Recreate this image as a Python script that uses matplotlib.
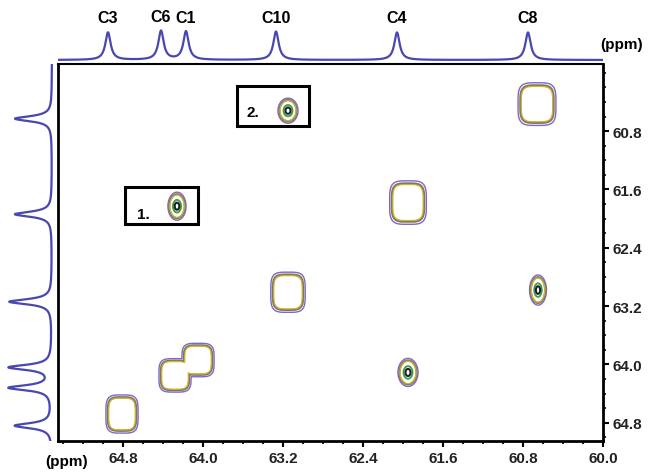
import numpy as np
import matplotlib
matplotlib.use('Agg')
import matplotlib.pyplot as plt
from matplotlib.patches import Rectangle
from matplotlib.ticker import MultipleLocator, FixedLocator

plt.rcParams['font.family'] = ['Liberation Sans', 'DejaVu Sans']

# ---------------- data (ppm) ----------------
top_labels = ['C3', 'C6', 'C1', 'C10', 'C4', 'C8']
top_shift = [64.95, 64.42, 64.17, 63.27, 62.06, 60.75]
top_height = [0.95, 1.0, 0.98, 0.98, 0.95, 0.95]

left_shift = [60.63, 61.94, 63.14, 64.04, 64.32, 64.84]
left_height = [1.0, 1.0, 1.15, 1.15, 1.15, 1.0]

cross_x = [64.81, 64.28, 64.05, 64.26, 63.15, 63.15, 61.95, 61.95, 60.66, 60.65]
cross_y = [64.68, 64.15, 63.94, 61.83, 60.52, 63.01, 61.78, 64.11, 60.43, 62.98]
cross_amp = [0.45, 0.45, 0.45, 1.0, 1.0, 0.45, 0.45, 1.0, 0.45, 1.0]
cross_wx = [0.14, 0.14, 0.14, 0.057, 0.063, 0.15, 0.16, 0.063, 0.165, 0.053]
cross_wy = [0.228, 0.20, 0.20, 0.121, 0.108, 0.24, 0.26, 0.121, 0.255, 0.13]
cross_shape = [4, 4, 4, 2, 2, 4, 4, 2, 4, 2]

x_ticks = [64.8, 64.0, 63.2, 62.4, 61.6, 60.8, 60.0]
y_ticks = [60.8, 61.6, 62.4, 63.2, 64.0, 64.8]

# boxed annotations: (x0, x1, y0, y1, label, label_x, label_y)
boxes = [(64.78, 64.05, 61.56, 62.08, '1.', 64.60, 61.94),
         (63.66, 62.94, 60.18, 60.73, '2.', 63.50, 60.54)]

XLIM = (65.45, 60.0)
YLIM = (65.05, 59.88)
W, H = 652, 477
spec_color = '#4848b0'

fig = plt.figure(figsize=(W / 100, H / 100), dpi=100)

# ---------------- main 2D axes ----------------
ax = fig.add_axes([58 / W, (H - 442) / H, 545 / W, 377 / H])
ax.set_xlim(*XLIM)
ax.set_ylim(*YLIM)

gx = np.linspace(XLIM[0], XLIM[1], 900)
gy = np.linspace(YLIM[1], YLIM[0], 700)
X, Y = np.meshgrid(gx, gy)
Z = np.zeros_like(X)
for cx, cy, a, wx, wy, p in zip(cross_x, cross_y, cross_amp, cross_wx, cross_wy, cross_shape):
    Z = np.maximum(Z, a * np.exp(-(np.abs((X - cx) / wx) ** p + np.abs((Y - cy) / wy) ** p)))

levels = [0.08, 0.16, 0.20, 0.60, 0.85]
colors = ['#7a68c8', '#857565', '#c8b82a', '#3a9a4a', '#202020']
widths = [1.0, 1.6, 0.9, 1.3, 1.5]
ax.contour(X, Y, Z, levels=levels, colors=colors, linewidths=widths)

for x0, x1, y0, y1, lab, lx, ly in boxes:
    ax.add_patch(Rectangle((x1, y0), x0 - x1, y1 - y0, fill=False,
                           edgecolor='black', linewidth=2.2))
    ax.text(lx, ly, lab, fontsize=11, fontweight='bold', ha='center', va='center')

for s in ax.spines.values():
    s.set_linewidth(2)
ax.spines['top'].set_linewidth(1.5)

ax.xaxis.set_major_locator(FixedLocator(x_ticks))
ax.xaxis.set_minor_locator(MultipleLocator(0.2))
ax.set_xticklabels([f'{t:.1f}' for t in x_ticks])
ax.yaxis.tick_right()
ax.yaxis.set_major_locator(FixedLocator(y_ticks))
ax.yaxis.set_minor_locator(MultipleLocator(0.2))
ax.set_yticklabels([f'{t:.1f}' for t in y_ticks])
ax.tick_params(axis='both', which='major', direction='out', length=4, width=1.5,
               labelsize=11, pad=3)
ax.tick_params(axis='both', which='minor', direction='out', length=2.5, width=1.2)
ax.tick_params(axis='x', which='both', top=False)
ax.tick_params(axis='y', which='both', left=False)
for lbl in ax.get_xticklabels() + ax.get_yticklabels():
    lbl.set_fontweight('bold')
    lbl.set_color('#222222')

# ---------------- top projection ----------------
axt = fig.add_axes([58 / W, (H - 65) / H, 545 / W, 65 / H])
axt.set_xlim(*XLIM)
axt.set_ylim(-0.138, 2.103)
xs = np.linspace(XLIM[0], XLIM[1], 2000)
top_trace = np.zeros_like(xs)
for c, h in zip(top_shift, top_height):
    top_trace += h / (1 + ((xs - c) / 0.032) ** 2)
axt.plot(xs, top_trace, color=spec_color, lw=1.6)
for c, h, lab in zip(top_shift, top_height, top_labels):
    axt.annotate(lab, (c, h), xytext=(0, 5), textcoords='offset points',
                 ha='center', va='bottom', fontsize=11.5, fontweight='bold',
                 annotation_clip=False)
axt.axis('off')

# ---------------- left projection ----------------
axl = fig.add_axes([0, (H - 442) / H, 58 / W, 377 / H])
axl.set_ylim(*YLIM)
axl.set_xlim(1.4054, -0.162)
ys = np.linspace(YLIM[1], YLIM[0], 2000)
left_trace = np.zeros_like(ys)
for c, h in zip(left_shift, left_height):
    left_trace += h / (1 + ((ys - c) / 0.042) ** 2)
axl.plot(left_trace, ys, color=spec_color, lw=1.6)
axl.axis('off')

# ---------------- unit labels ----------------
fig.text(622 / W, 1 - 45 / H, '(ppm)', ha='center', va='center',
         fontsize=11, fontweight='bold')
fig.text(67 / W, 1 - 462 / H, '(ppm)', ha='center', va='center',
         fontsize=11, fontweight='bold')

fig.savefig('out.png', dpi=100)
